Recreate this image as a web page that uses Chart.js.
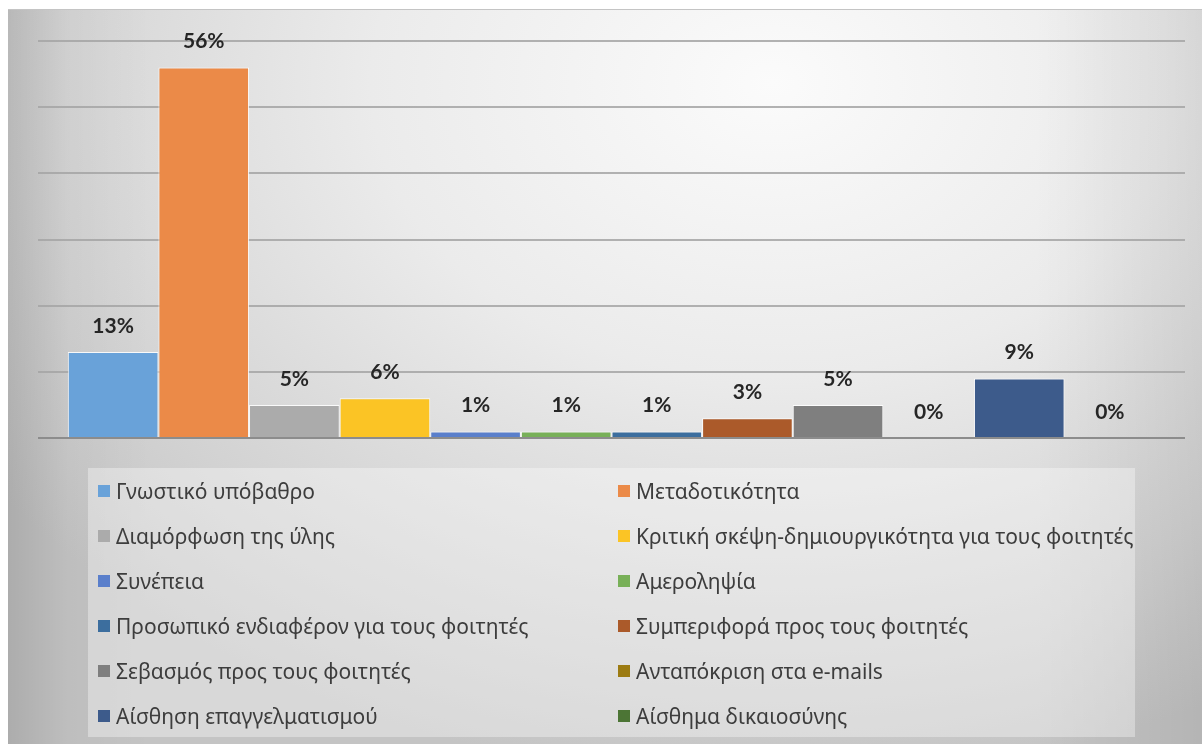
<!DOCTYPE html>
<html lang="el">
<head>
<meta charset="utf-8">
<script src="https://cdn.jsdelivr.net/npm/chart.js@4/dist/chart.umd.min.js"></script>
<style>
  html, body { margin: 0; padding: 0; background: #ffffff; }
  body { width: 1202px; height: 744px; position: relative; overflow: hidden; }
  #frame {
    position: absolute; left: 8px; top: 9px; width: 1194px; height: 735px;
    box-sizing: border-box;
    border-top: 1px solid #c4c4c4;
    background:
      linear-gradient(to right, rgba(0,0,0,0.12) 0%, rgba(0,0,0,0.03) 5%, rgba(0,0,0,0) 12%, rgba(0,0,0,0) 86%, rgba(0,0,0,0.08) 100%),
      radial-gradient(ellipse 80% 95% at 64% 10%, #fbfbfb 0%, #ebebeb 42%, #d2d2d2 80%, #c4c4c4 100%);
  }
  #chart { position: absolute; left: 0; top: -1px; }
  #legend {
    position: absolute; left: 80px; top: 458px; width: 1047px; height: 269px;
    background: rgba(255,255,255,0.35);
    display: grid; grid-template-columns: 520px 527px; grid-auto-rows: 45px;
    font-family: "Noto Sans", "Open Sans", sans-serif;
    font-size: 21px; color: #3d3d3d;
  }
  .item { display: flex; align-items: center; padding-left: 10px; white-space: nowrap; }
  .swatch { width: 12px; height: 12px; margin-right: 6px; flex: none; }
</style>
</head>
<body>
<div id="frame">
  <canvas id="chart" width="1194" height="735"></canvas>
  <div id="legend"></div>
</div>
<script>
// Survey criteria and their share of answers (%)
const criteria = [
  "Γνωστικό υπόβαθρο",
  "Μεταδοτικότητα",
  "Διαμόρφωση της ύλης",
  "Κριτική σκέψη-δημιουργικότητα για τους φοιτητές",
  "Συνέπεια",
  "Αμεροληψία",
  "Προσωπικό ενδιαφέρον για τους φοιτητές",
  "Συμπεριφορά προς τους φοιτητές",
  "Σεβασμός προς τους φοιτητές",
  "Ανταπόκριση στα e-mails",
  "Αίσθηση επαγγελματισμού",
  "Αίσθημα δικαιοσύνης"
];
const shares = [13, 56, 5, 6, 1, 1, 1, 3, 5, 0, 9, 0];
const colors = [
  "#69a2d9", "#eb8a48", "#ababab", "#fbc425", "#5a7fcb", "#78b058",
  "#3c6e9e", "#ab5a2a", "#7f7f7f", "#9c7b12", "#3d5b8b", "#4c7535"
];
const yTicks = [0, 10, 20, 30, 40, 50, 60];

const datasets = criteria.map((name, i) => ({
  label: name,
  data: [shares[i]],
  backgroundColor: colors[i],
  borderColor: "rgba(255,255,255,0.85)",
  borderWidth: 1
}));

// Percentage labels above each bar
const valueLabels = {
  id: "valueLabels",
  afterDatasetsDraw(chart) {
    const ctx = chart.ctx;
    ctx.save();
    ctx.font = "bold 21px Lato, 'Open Sans', sans-serif";
    ctx.fillStyle = "#262626";
    ctx.textAlign = "center";
    ctx.textBaseline = "middle";
    chart.data.datasets.forEach((ds, i) => {
      const bar = chart.getDatasetMeta(i).data[0];
      ctx.fillText(ds.data[0] + "%", bar.x, bar.y - 26);
    });
    ctx.restore();
  }
};

const chart = new Chart(document.getElementById("chart"), {
  type: "bar",
  data: { labels: [""], datasets },
  options: {
    responsive: false,
    animation: false,
    layout: { padding: { left: 30, right: 17, top: 32, bottom: 306 } },
    categoryPercentage: 0.948,
    barPercentage: 1,
    plugins: { legend: { display: false }, tooltip: { enabled: false } },
    scales: {
      x: { display: false },
      y: {
        min: yTicks[0],
        max: yTicks[yTicks.length - 1],
        afterBuildTicks: (axis) => { axis.ticks = yTicks.map(v => ({ value: v })); },
        ticks: { display: false },
        border: { display: false },
        grid: {
          drawTicks: false,
          lineWidth: 2,
          color: (c) => c.tick && c.tick.value === 0 ? "#8c8c8c" : "rgba(165,165,165,0.85)"
        }
      }
    }
  },
  plugins: [valueLabels]
});

// Two-column legend built from the chart's datasets
const legendEl = document.getElementById("legend");
chart.data.datasets.forEach((ds) => {
  const item = document.createElement("div");
  item.className = "item";
  const sw = document.createElement("span");
  sw.className = "swatch";
  sw.style.background = ds.backgroundColor;
  const txt = document.createElement("span");
  txt.textContent = ds.label;
  item.appendChild(sw);
  item.appendChild(txt);
  legendEl.appendChild(item);
});
</script>
</body>
</html>
